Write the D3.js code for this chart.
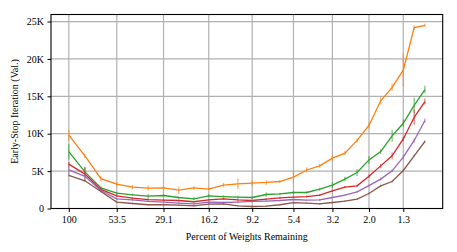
<!DOCTYPE html>
<html>
<head>
<meta charset="utf-8">
<script src="https://cdn.jsdelivr.net/npm/d3@7"></script>
<style>
  body { margin: 0; background: #fff; }
  svg text { font-family: "Liberation Serif", "Times New Roman", serif; }
</style>
</head>
<body>
<svg id="chart"></svg>
<script>
// percent of weights remaining at each pruning round
var percents = [100, 81.08, 65.84, 53.55, 43.63, 35.61, 29.13, 23.88, 19.62, 16.16,
                13.35, 11.06, 9.18, 7.65, 6.40, 5.365, 4.515, 3.812, 3.231, 2.746,
                2.343, 2.007, 1.723, 1.485, 1.284, 1.114, 0.969];

var tickIndex = [0, 3, 6, 9, 12, 15, 18, 21, 24];
var tickLabels = ["100", "53.5", "29.1", "16.2", "9.2", "5.4", "3.2", "2.0", "1.3"];

var yTicks = [0, 5000, 10000, 15000, 20000, 25000];
var yTickLabels = ["0", "5K", "10K", "15K", "20K", "25K"];

// early-stop iteration, thousands
var orange = [9.8, 7.05, 4.0, 3.26, 2.86, 2.72, 2.75, 2.45, 2.77, 2.6, 3.13, 3.3, 3.39, 3.48, 3.61, 4.2, 5.15, 5.7, 6.73, 7.4, 9.1, 11.1, 14.4, 16.2, 18.5, 24.2, 24.5];
var orangeErr = [0.7, 0.3, 0.35, 0.3, 0.3, 0.35, 0.2, 0.5, 0.25, 0.2, 0.3, 0.7, 0.4, 0.3, 0.2, 0.8, 0.35, 0.25, 0.35, 0.3, 0.3, 0.4, 0.5, 0.5, 2.2, 0.3, 0.2];

var green = [7.6, 4.9, 2.75, 2.05, 1.83, 1.65, 1.74, 1.47, 1.3, 1.7, 1.6, 1.52, 1.47, 1.87, 1.96, 2.14, 2.14, 2.59, 3.13, 3.93, 4.81, 6.5, 7.62, 9.72, 11.4, 13.8, 15.9];
var greenErr = [1.0, 0.67, 0.2, 0.2, 0.15, 0.3, 0.2, 0.15, 0.2, 0.2, 0.15, 0.2, 0.15, 0.3, 0.15, 0.2, 0.15, 0.2, 0.4, 0.3, 0.45, 0.55, 0.3, 0.8, 0.5, 1.0, 0.5];

var red = [5.93, 4.6, 2.55, 1.7, 1.39, 1.2, 1.12, 1.07, 0.9, 1.16, 1.3, 1.16, 1.07, 1.25, 1.43, 1.52, 1.6, 1.79, 2.37, 2.86, 3.03, 4.3, 5.7, 7.05, 9.3, 12.2, 14.3];
var redErr = [0.3, 0.9, 0.2, 0.15, 0.15, 0.15, 0.1, 0.15, 0.1, 0.1, 0.1, 0.15, 0.1, 0.1, 0.15, 0.1, 0.15, 0.15, 0.15, 0.15, 0.15, 0.2, 0.3, 0.45, 0.3, 1.0, 0.4];

var purple = [5.17, 4.3, 2.4, 1.3, 1.16, 0.94, 0.85, 0.72, 0.63, 0.85, 0.8, 0.85, 0.94, 0.99, 1.07, 1.2, 1.12, 1.16, 1.47, 1.79, 2.23, 3.05, 3.93, 5.04, 6.87, 9.1, 11.76];
var purpleErr = [0.55, 0.3, 0.15, 0.1, 0.15, 0.1, 0.1, 0.1, 0.1, 0.1, 0.1, 0.15, 0.1, 0.1, 0.1, 0.1, 0.1, 0.15, 0.1, 0.1, 0.1, 0.15, 0.2, 0.2, 0.3, 0.3, 0.3];

var brown = [4.42, 3.7, 2.28, 0.85, 0.67, 0.5, 0.5, 0.45, 0.36, 0.59, 0.63, 0.36, 0.27, 0.32, 0.5, 0.78, 0.72, 0.63, 0.8, 0.99, 1.25, 2.0, 3.03, 3.61, 5.08, 7.05, 8.96];
var brownErr = [0.15, 0.15, 0.1, 0.1, 0.1, 0.1, 0.1, 0.1, 0.1, 0.1, 0.1, 0.1, 0.1, 0.1, 0.1, 0.1, 0.1, 0.1, 0.1, 0.1, 0.1, 0.1, 0.15, 0.15, 0.15, 0.15, 0.15];

var series = [
    {values: orange, err: orangeErr, color: "#ff7f0e"},
    {values: green, err: greenErr, color: "#2ca02c"},
    {values: red, err: redErr, color: "#d62728"},
    {values: purple, err: purpleErr, color: "#9467bd"},
    {values: brown, err: brownErr, color: "#8c564b"}
];

var width = 457;
var height = 252;
var margin = {"top": 14.5, "right": 14.3, "bottom": 43.5, "left": 51};

var svg = d3.select("svg#chart")
    .attr("width", width)
    .attr("height", height);

// log x axis, reversed, with 5% padding in log space
var lmax = Math.log10(percents[0]);
var lmin = Math.log10(percents[percents.length - 1]);
var pad = (lmax - lmin) * 0.05;

var x = d3.scaleLog()
    .domain([Math.pow(10, lmax + pad), Math.pow(10, lmin - pad)])
    .range([margin.left, width - margin.right]);

var y = d3.scaleLinear()
    .domain([0, 25940])
    .range([height - margin.bottom, margin.top]);

var grid = svg.append("g").attr("class", "grid");

grid.selectAll("line.gx")
    .data(tickIndex)
    .enter().append("line")
    .attr("class", "gx")
    .attr("x1", function(d){ return x(percents[d]); })
    .attr("x2", function(d){ return x(percents[d]); })
    .attr("y1", margin.top)
    .attr("y2", height - margin.bottom)
    .attr("stroke", "#b0b0b0")
    .attr("stroke-width", 1.2);

grid.selectAll("line.gy")
    .data(yTicks)
    .enter().append("line")
    .attr("class", "gy")
    .attr("x1", margin.left)
    .attr("x2", width - margin.right)
    .attr("y1", function(d){ return y(d); })
    .attr("y2", function(d){ return y(d); })
    .attr("stroke", "#b0b0b0")
    .attr("stroke-width", 1.2);

var line = d3.line()
    .x(function(d, i){ return x(percents[i]); })
    .y(function(d){ return y(d * 1000); });

series.forEach(function(s) {
    var g = svg.append("g");
    g.selectAll("line.err")
        .data(s.values)
        .enter().append("line")
        .attr("class", "err")
        .attr("x1", function(d, i){ return x(percents[i]); })
        .attr("x2", function(d, i){ return x(percents[i]); })
        .attr("y1", function(d, i){ return y((d - s.err[i]) * 1000); })
        .attr("y2", function(d, i){ return y((d + s.err[i]) * 1000); })
        .attr("stroke", s.color)
        .attr("stroke-opacity", 0.65)
        .attr("stroke-width", 1.2);
    g.append("path")
        .datum(s.values)
        .attr("d", line)
        .attr("fill", "none")
        .attr("stroke", s.color)
        .attr("stroke-width", 1.3);
});

// frame
svg.append("rect")
    .attr("x", margin.left)
    .attr("y", margin.top)
    .attr("width", width - margin.right - margin.left)
    .attr("height", height - margin.bottom - margin.top)
    .attr("fill", "none")
    .attr("stroke", "#000")
    .attr("stroke-width", 1.1);

var xAxis = d3.axisBottom(x)
    .tickValues(tickIndex.map(function(i){ return percents[i]; }))
    .tickFormat(function(d, i){ return tickLabels[i]; })
    .tickSize(3.5)
    .tickPadding(4);

var gx = svg.append("g")
    .attr("transform", "translate(0," + (height - margin.bottom) + ")")
    .call(xAxis);

var yAxis = d3.axisLeft(y)
    .tickValues(yTicks)
    .tickFormat(function(d, i){ return yTickLabels[i]; })
    .tickSize(3.5)
    .tickPadding(3.5);

var gy = svg.append("g")
    .attr("transform", "translate(" + margin.left + ",0)")
    .call(yAxis);

[gx, gy].forEach(function(g) {
    g.select(".domain").remove();
    g.attr("font-family", null);
    g.selectAll("text")
        .attr("fill", "#000")
        .style("font-size", "10px");
    g.selectAll(".tick line").attr("stroke", "#000");
});

svg.append("text")
    .attr("x", (margin.left + width - margin.right) / 2)
    .attr("y", 240)
    .attr("text-anchor", "middle")
    .style("font-size", "10px")
    .text("Percent of Weights Remaining");

svg.append("text")
    .attr("transform", "translate(18," + ((margin.top + height - margin.bottom) / 2) + ") rotate(-90)")
    .attr("text-anchor", "middle")
    .style("font-size", "10px")
    .text("Early-Stop Iteration (Val.)");
</script>
</body>
</html>
